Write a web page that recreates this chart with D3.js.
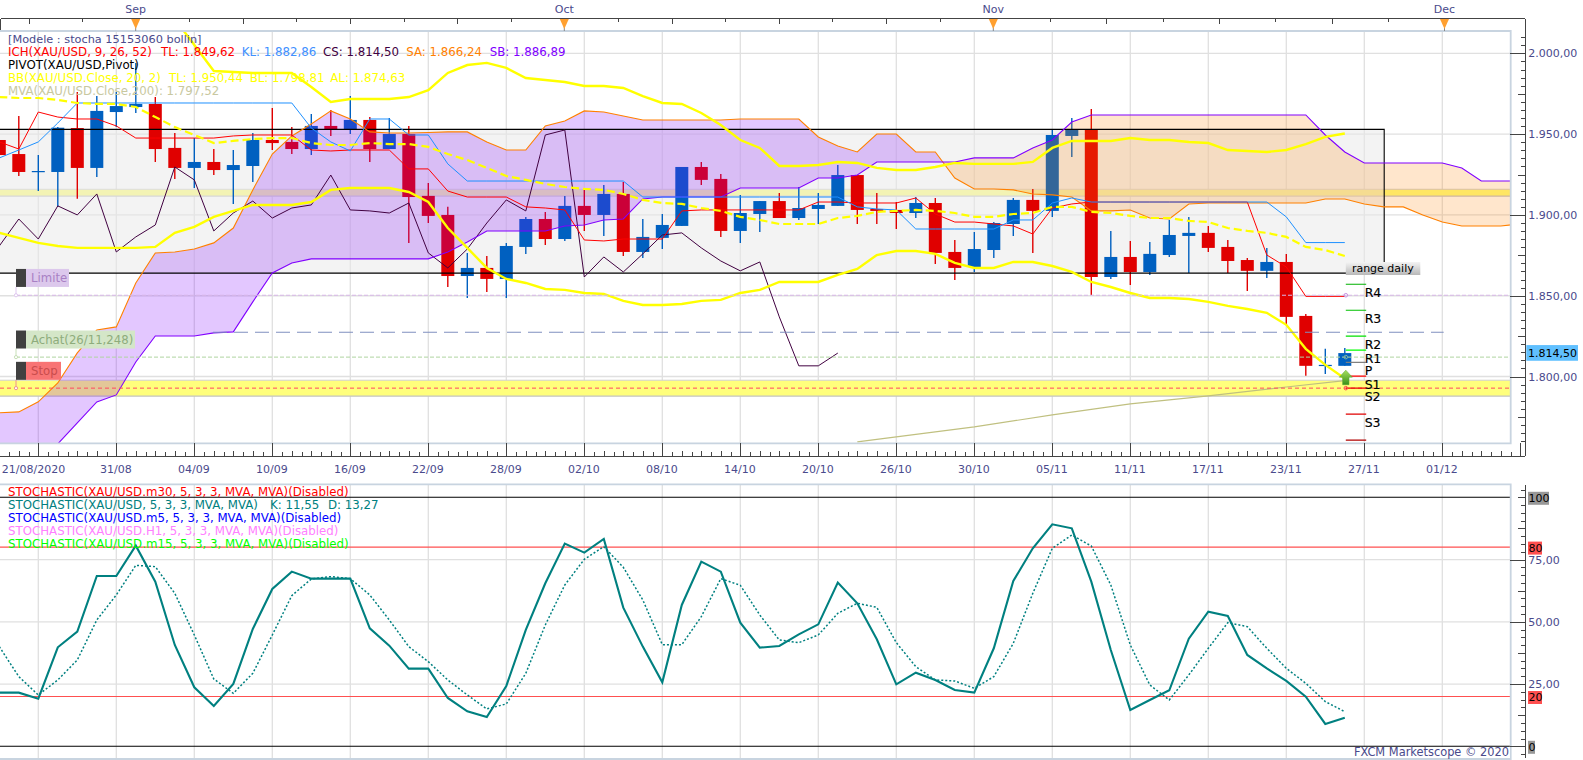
<!DOCTYPE html>
<html>
<head>
<meta charset="utf-8">
<script src="https://cdn.jsdelivr.net/npm/d3@7"></script>
<style>
  html, body { margin: 0; padding: 0; background: #fff; overflow: hidden; }
  text { font-family: "DejaVu Sans", sans-serif; font-size: 11px; }
  .axis text { fill: #4a4a8c; }
  .axis line, .axis path { stroke: #444; shape-rendering: crispEdges; }
</style>
</head>
<body>
<svg id="chart" width="1583" height="760"></svg>
<script>
// daily candles, one entry per bar
var cOpen = [1946.4,1937.7,1926.6,1926.6,1953.8,1929.1,1963.7,1966.8,1968.7,1941.5,1929.1,1932.8,1927.8,1930.3,1946.4,1945.2,1940.8,1955.1,1952.6,1958.8,1940.8,1950.1,1911.8,1900.0,1862.2,1867.2,1860.4,1880.2,1897.5,1885.1,1905.6,1900.0,1913.0,1877.1,1885.8,1893.2,1929.7,1922.3,1890.1,1900.6,1908.6,1898.1,1903.7,1905.6,1924.7,1903.7,1903.1,1901.2,1907.4,1877.1,1867.8,1878.3,1894.4,1909.3,1902.5,1948.9,1952.6,1861.6,1874.0,1864.7,1875.2,1887.0,1888.9,1880.2,1872.1,1865.4,1870.9,1837.5,1806.6,1806.6];
var cClose = [1937.1,1926.6,1927.2,1954.0,1929.1,1964.4,1967.4,1968.7,1940.8,1929.1,1932.8,1927.8,1930.9,1946.4,1944.5,1940.8,1955.1,1952.6,1958.8,1940.8,1950.1,1911.1,1899.4,1862.2,1867.2,1860.4,1880.8,1897.5,1885.1,1905.6,1900.0,1913.0,1877.1,1886.4,1893.8,1929.7,1921.7,1890.1,1901.2,1908.6,1898.1,1904.3,1906.2,1924.7,1903.1,1902.5,1901.2,1907.4,1876.5,1867.2,1878.9,1895.0,1909.3,1902.5,1949.5,1952.6,1861.6,1874.0,1864.7,1875.9,1887.6,1888.9,1879.6,1871.5,1865.4,1870.9,1836.9,1806.6,1807.2,1814.5];
var cHigh = [1952.6,1961.3,1937.1,1954.4,1976.1,1973.6,1976.1,1994.0,1973.0,1950.7,1947.6,1940.8,1940.2,1950.7,1966.2,1954.4,1962.5,1965.0,1973.6,1960.6,1960.0,1955.1,1919.8,1905.0,1876.5,1874.6,1882.7,1898.8,1901.9,1911.8,1915.5,1918.6,1920.4,1897.5,1900.6,1929.7,1932.8,1925.4,1912.4,1908.6,1913.6,1917.3,1913.6,1930.9,1924.7,1913.6,1908.0,1911.1,1910.5,1884.5,1889.5,1895.6,1910.5,1916.1,1952.6,1960.0,1965.6,1890.1,1883.9,1883.3,1896.9,1898.8,1893.2,1884.5,1873.4,1879.6,1875.9,1838.7,1817.1,1817.7];
var cLow = [1934.0,1924.1,1914.8,1905.0,1910.0,1923.5,1954.4,1963.1,1932.8,1922.3,1916.7,1924.7,1906.8,1920.4,1940.2,1937.7,1937.1,1948.9,1950.1,1932.8,1940.8,1882.7,1895.0,1855.4,1848.6,1852.3,1848.6,1875.9,1881.4,1883.9,1890.1,1887.0,1874.6,1873.4,1878.9,1893.2,1918.6,1886.4,1882.7,1889.5,1898.1,1896.9,1894.4,1905.6,1894.4,1894.4,1891.3,1898.1,1869.7,1859.8,1864.7,1873.4,1887.0,1876.5,1898.8,1935.9,1850.5,1860.4,1856.7,1862.9,1874.0,1864.1,1877.1,1864.1,1852.9,1861.0,1832.5,1800.4,1801.6,1806.6];

// ichimoku
var tenkan = [1945.2,1940.8,1963.7,1960.6,1959.4,1959.4,1955.1,1947.6,1947.6,1947.6,1947.6,1947.6,1948.9,1949.5,1949.5,1949.5,1940.2,1939.6,1940.2,1940.2,1940.2,1928.5,1928.5,1914.8,1911.1,1911.1,1911.1,1905.0,1904.3,1903.1,1884.5,1883.9,1885.1,1885.1,1885.1,1902.5,1903.1,1903.1,1903.1,1903.1,1903.1,1903.1,1908.0,1908.0,1907.4,1907.4,1907.4,1910.5,1900.6,1895.6,1895.6,1894.4,1893.2,1888.2,1904.3,1906.8,1908.0,1908.0,1908.0,1908.0,1908.0,1908.0,1908.0,1908.0,1908.0,1875.2,1867.8,1849.6,1849.6,1849.6];
var kijun = [1935.3,1940.2,1945.2,1956.9,1969.3,1969.3,1969.3,1969.3,1969.3,1969.3,1969.3,1969.3,1969.3,1969.3,1969.3,1969.3,1953.8,1945.2,1939.6,1959.4,1959.4,1949.5,1949.5,1931.6,1921.0,1921.0,1921.0,1921.0,1921.0,1921.0,1921.0,1921.0,1921.0,1911.1,1911.1,1911.1,1911.1,1911.1,1911.1,1911.1,1911.1,1911.1,1911.1,1911.1,1905.0,1903.7,1903.1,1891.3,1891.3,1891.3,1891.3,1891.3,1896.9,1896.9,1907.4,1910.5,1908.0,1908.0,1908.0,1908.0,1908.0,1908.0,1908.0,1908.0,1908.0,1908.0,1898.8,1882.9,1882.9,1882.9];
var chikou = [1880.8,1897.5,1885.1,1905.6,1900.0,1913.0,1877.1,1886.4,1893.8,1929.7,1921.7,1890.1,1901.2,1908.6,1898.1,1904.3,1906.2,1924.7,1903.1,1902.5,1901.2,1907.4,1876.5,1867.2,1878.9,1895.0,1909.3,1902.5,1949.5,1952.6,1861.6,1874.0,1864.7,1875.9,1887.6,1888.9,1879.6,1871.5,1865.4,1870.9,1836.9,1806.6,1806.6,1814.5];
var senkouA = [1777.5,1778.1,1784.3,1796.0,1814.6,1828.8,1830.7,1857.9,1876.5,1877.1,1878.9,1882.7,1891.9,1915.5,1937.7,1948.9,1956.3,1964.4,1959.4,1951.4,1950.7,1950.7,1951.0,1951.4,1951.4,1945.2,1940.2,1940.2,1955.1,1958.2,1964.4,1963.7,1961.3,1958.8,1958.8,1958.8,1958.8,1958.8,1959.4,1959.4,1959.4,1959.4,1948.3,1942.7,1939.0,1950.1,1950.1,1939.0,1939.0,1922.9,1916.1,1916.1,1915.5,1913.0,1912.4,1911.1,1902.5,1902.5,1903.1,1898.1,1897.5,1906.8,1907.4,1907.4,1907.4,1907.4,1907.4,1907.4,1909.9,1909.9,1906.8,1905.0,1905.0,1900.0,1895.6,1893.2,1893.2,1893.2,1894.4];
var senkouB = [1723.6,1729.8,1742.2,1758.3,1771.3,1784.3,1788.6,1809.0,1825.1,1825.1,1825.1,1827.0,1827.6,1846.2,1864.1,1870.3,1872.8,1872.8,1872.8,1872.8,1872.8,1872.8,1872.8,1877.1,1883.3,1890.1,1890.1,1890.1,1890.1,1893.2,1893.8,1896.9,1897.5,1909.9,1911.1,1911.1,1911.1,1911.1,1916.7,1916.7,1916.7,1916.7,1922.9,1922.9,1924.7,1932.8,1932.8,1932.8,1932.8,1932.8,1935.3,1935.3,1935.3,1941.5,1946.4,1957.5,1961.9,1961.9,1961.9,1961.9,1961.9,1961.9,1961.9,1961.9,1961.9,1961.9,1961.9,1961.9,1949.5,1939.0,1932.2,1932.2,1932.2,1932.2,1932.2,1929.1,1921.0,1921.0,1921.0];

// bollinger (the upper band starts above the pane)
var bbUpper = [null,null,null,null,null,null,null,null,null,2021.3,2005.2,1989.1,1988.5,1987.9,1987.9,1987.9,1979.2,1969.9,1971.8,1971.8,1971.8,1973.0,1977.3,1987.9,1992.8,1994.1,1991.0,1984.8,1983.5,1982.3,1979.8,1979.8,1978.6,1973.6,1969.3,1968.7,1963.1,1955.7,1946.4,1941.5,1930.3,1930.3,1930.9,1932.8,1932.2,1929.1,1927.8,1927.8,1929.7,1932.2,1931.6,1931.6,1931.6,1932.8,1941.5,1945.8,1945.8,1945.8,1947.6,1946.4,1946.4,1945.2,1944.5,1940.2,1939.6,1939.0,1940.2,1943.9,1948.3,1950.4];
var bbLower = [1888.9,1885.8,1882.7,1880.8,1879.6,1879.6,1879.6,1879.6,1880.2,1888.9,1892.6,1898.8,1902.5,1906.2,1906.2,1906.2,1908.0,1915.5,1916.7,1916.7,1916.7,1914.2,1908.0,1891.9,1879.6,1867.2,1860.4,1857.9,1854.2,1853.6,1851.7,1851.1,1846.8,1844.3,1844.3,1844.9,1846.8,1847.4,1851.7,1853.6,1858.5,1858.5,1858.5,1862.9,1866.6,1875.2,1877.7,1877.7,1875.9,1870.3,1867.2,1867.2,1870.9,1870.9,1868.4,1864.7,1858.5,1855.4,1851.7,1848.6,1848.6,1848.0,1846.2,1843.7,1841.8,1839.4,1832.0,1817.1,1807.2,1798.8];
var bbMid = [1973.0,1972.4,1972.4,1971.2,1969.3,1968.7,1968.7,1966.8,1960.6,1954.4,1949.5,1944.5,1945.8,1947.0,1947.6,1947.6,1944.5,1943.3,1943.3,1944.5,1943.9,1943.9,1942.1,1937.7,1934.0,1929.1,1924.1,1921.7,1919.2,1917.3,1916.1,1915.5,1913.0,1909.3,1907.4,1906.8,1904.3,1902.5,1898.8,1896.9,1894.4,1894.4,1894.4,1898.1,1899.4,1901.9,1902.5,1903.1,1902.5,1901.2,1898.8,1898.8,1900.6,1901.2,1905.0,1905.0,1901.9,1901.2,1899.4,1898.1,1898.1,1896.3,1895.6,1891.9,1890.1,1888.9,1886.4,1880.2,1878.3,1874.6];

// mva 200, read at a few bars only
var mvaBars = [44,46,50,54,58,62,66,69];
var mvaValues = [1759.5,1762.6,1768.8,1776.2,1783.0,1788.0,1793.5,1797.5];

// stochastic
var stochK = [21.55,21.55,19.14,39.76,46.05,68.41,68.41,80.59,66.13,40.69,23.69,16.2,25.03,47.12,63.18,70.15,67.34,67.34,67.34,47.39,40.43,31.19,31.19,19.41,14.06,11.78,24.23,46.72,65.46,81.39,77.78,83.26,55.69,40.03,25.7,56.76,74.16,70.15,49.66,39.62,40.29,44.98,48.98,65.73,57.43,42.97,24.9,29.58,26.64,22.62,21.55,39.36,66.4,79.52,89.16,87.55,66.13,38.69,14.59,18.61,22.49,43.24,54.08,52.34,36.68,31.32,26.24,19.95,8.97,11.51];
var stochD = [40.03,27.98,20.62,26.64,34.67,50.74,60.78,72.69,72.15,61.44,44.71,27.04,21.28,29.32,44.71,60.51,67.2,68.14,67.34,60.78,50.74,40.03,34,26.64,20.62,15,17,29.32,48.73,64.79,75.1,80.19,71.89,58.77,40.83,40.83,52.07,67.34,64.66,52.74,42.7,41.63,44.71,53.41,57.43,55.82,41.63,32,26.64,26.24,23.29,27.98,41.36,61.44,79.52,84.87,80.45,64.79,40.69,24.63,18.61,28.65,39.36,49.66,48.06,39.36,31.32,25.3,17.94,13.92];

// time axis
var labelBars = [2,6,10,14,18,22,26,30,34,38,42,46,50,54,58,62,66,70,74];
var dateLabels = ["21/08/2020","31/08","04/09","10/09","16/09","22/09","28/09","02/10","08/10","14/10","20/10","26/10","30/10","05/11","11/11","17/11","23/11","27/11","01/12"];
var monthNames = ["Sep","Oct","Nov","Dec"];

// horizontal levels
var zoneTop = 1953, zoneBottom = 1864;
var thinBand = [1915.9, 1911.7];
var stopBand = [1797.7, 1787.8];
var limiteLevel = 1850.3, buyLevel = 1827.4, achatLevel = 1812, stopLevel = 1792.8;
var pivotNames = ["R4","R3","R2","R1","P","S1","S2","S3",""];
var pivotValues = [1857.1,1841,1825,1816.3,1808.8,1800.2,1792.8,1776.7,1760.6];
var pivotColors = ["#00b000","#00c000","#00e000","#00ff00","#808080","#ff0000","#e80000","#e00000","#b00000"];

var lastPrice = 1814.5;

var svg = d3.select("#chart");
var W = 1510.7, axisX = 1525.3;
var top1 = 31, bot1 = 443.3, top2 = 484.3, bot2 = 759;

var x = d3.scaleLinear().domain([0, 78]).range([-0.7, 1520.3]);
var y = d3.scaleLinear().domain([2000, 1800]).range([53.4, 376.5]);
var yS = d3.scaleLinear().domain([100, 0]).range([497.3, 746.3]);
var month = d3.scaleLinear().domain([0, 1, 2, 3]).range([135.7, 564.3, 993.3, 1444.5]);

var euro = d3.formatLocale({ decimal: ",", thousands: ".", grouping: [3], currency: ["", ""] }).format(",.2f");
var euroS = d3.formatLocale({ decimal: ",", thousands: ".", grouping: [3], currency: ["", ""] }).format(".2f");

var defs = svg.append("defs");
defs.append("clipPath").attr("id", "pane1").append("rect")
  .attr("x", 0).attr("y", top1).attr("width", W).attr("height", bot1 - top1);
defs.append("clipPath").attr("id", "pane2").append("rect")
  .attr("x", 0).attr("y", top2).attr("width", W).attr("height", bot2 - top2);

var gradRange = defs.append("linearGradient").attr("id", "gradRange").attr("x2", 0).attr("y2", 1);
gradRange.append("stop").attr("offset", 0).attr("stop-color", "#f4f4f4");
gradRange.append("stop").attr("offset", 1).attr("stop-color", "#b8b8b8");
var gradArrow = defs.append("linearGradient").attr("id", "gradArrow").attr("x2", 0).attr("y2", 1);
gradArrow.append("stop").attr("offset", 0).attr("stop-color", "#a8e060");
gradArrow.append("stop").attr("offset", 1).attr("stop-color", "#389018");

// ---- grids
var gridBars = labelBars;
[[top1, bot1], [top2, bot2]].forEach(function (p) {
  svg.append("g").selectAll("line").data(gridBars).enter().append("line")
    .attr("x1", d => x(d)).attr("x2", d => x(d))
    .attr("y1", p[0]).attr("y2", p[1])
    .attr("stroke", "#e0e0e0").attr("stroke-width", 1.3);
});
svg.append("g").selectAll("line").data([2000, 1950, 1900, 1850, 1800]).enter().append("line")
  .attr("x1", 0).attr("x2", W).attr("y1", d => y(d)).attr("y2", d => y(d))
  .attr("stroke", "#e0e0e0").attr("stroke-width", 1.3);
svg.append("g").selectAll("line").data([75, 50, 25]).enter().append("line")
  .attr("x1", 0).attr("x2", W).attr("y1", d => yS(d)).attr("y2", d => yS(d))
  .attr("stroke", "#e0e0e0").attr("stroke-width", 1.3);

var pane = svg.append("g").attr("clip-path", "url(#pane1)");

// ---- bands and range zone
[thinBand, stopBand].forEach(function (b) {
  pane.append("rect").attr("x", 0).attr("width", W)
    .attr("y", y(b[0])).attr("height", y(b[1]) - y(b[0]))
    .attr("fill", "#ffff7c");
  pane.append("line").attr("x1", 0).attr("x2", W).attr("y1", y(b[1])).attr("y2", y(b[1]))
    .attr("stroke", "#c4c4c4").attr("stroke-width", 1.2);
  pane.append("line").attr("x1", 0).attr("x2", W).attr("y1", y(b[0])).attr("y2", y(b[0]))
    .attr("stroke", "#d0d0d0").attr("stroke-width", 1);
});
pane.append("rect").attr("x", 0).attr("width", 1384.2)
  .attr("y", y(zoneTop)).attr("height", y(zoneBottom) - y(zoneTop))
  .attr("fill", "rgb(232,232,232)").attr("fill-opacity", 0.52);

// ---- candles
var candles = pane.append("g").selectAll("g").data(cOpen).enter().append("g");
var candleColor = (d, i) => cClose[i] >= d ? "#0060c0" : "#e00000";
candles.append("line")
  .attr("x1", (d, i) => x(i)).attr("x2", (d, i) => x(i))
  .attr("y1", (d, i) => y(cHigh[i])).attr("y2", (d, i) => y(cLow[i]))
  .attr("stroke", candleColor).attr("stroke-width", 1.4);
candles.append("rect")
  .attr("x", (d, i) => x(i) - 6.5).attr("width", 13)
  .attr("y", (d, i) => y(Math.max(d, cClose[i])))
  .attr("height", (d, i) => Math.max(1.2, Math.abs(y(d) - y(cClose[i]))))
  .attr("fill", candleColor);

// ---- kumo, coloured by which span is on top
var cloudArea = d3.area().x((d, i) => x(i)).y0((d, i) => y(senkouB[i])).y1(d => y(d));
var aboveB = d3.area().x((d, i) => x(i)).y0(top1).y1(d => y(d));
var belowB = d3.area().x((d, i) => x(i)).y0(bot1).y1(d => y(d));
defs.append("clipPath").attr("id", "aboveB").append("path").attr("d", aboveB(senkouB.slice(0, senkouA.length)));
defs.append("clipPath").attr("id", "belowB").append("path").attr("d", belowB(senkouB.slice(0, senkouA.length)));
pane.append("g").attr("clip-path", "url(#aboveB)").append("path")
  .attr("d", cloudArea(senkouA)).attr("fill", "#8000ff").attr("fill-opacity", 0.22);
pane.append("g").attr("clip-path", "url(#belowB)").append("path")
  .attr("d", cloudArea(senkouA)).attr("fill", "#ff8000").attr("fill-opacity", 0.2);

// ---- zone outline
pane.append("path")
  .attr("d", d3.line()([[0, y(zoneTop)], [1384.2, y(zoneTop)], [1384.2, y(zoneBottom)], [0, y(zoneBottom)]]))
  .attr("fill", "none").attr("stroke", "#000").attr("stroke-width", 1.1);

// ---- indicator lines
var priceLine = d3.line().defined(d => d != null).x((d, i) => x(i)).y(d => y(d));
function addLine(values, color, w, dash) {
  pane.append("path").attr("d", priceLine(values))
    .attr("fill", "none").attr("stroke", color).attr("stroke-width", w)
    .attr("stroke-dasharray", dash || null);
}
addLine(chikou, "#400040", 1);
addLine(senkouA, "#ff8000", 1.1);
addLine(senkouB, "#8000ff", 1.1);
addLine(tenkan, "#ff0000", 1);
addLine(kijun, "#1e90ff", 1);
pane.append("path")
  .attr("d", d3.line().x(d => x(d)).y((d, i) => y(mvaValues[i]))(mvaBars))
  .attr("fill", "none").attr("stroke", "#c0c080").attr("stroke-width", 1.2);
addLine(bbUpper, "#ffff00", 2.4);
addLine(bbLower, "#ffff00", 2.4);
addLine(bbMid, "#ffff00", 2.2, "8 4");

// ---- order levels
pane.append("line").attr("x1", 16).attr("x2", W).attr("y1", y(limiteLevel)).attr("y2", y(limiteLevel))
  .attr("stroke", "#d8b8e8").attr("stroke-dasharray", "4 2");
pane.append("line").attr("x1", 213).attr("x2", 1443.7).attr("y1", y(buyLevel)).attr("y2", y(buyLevel))
  .attr("stroke", "#8090c0").attr("stroke-width", 1.1).attr("stroke-dasharray", "14 7");
pane.append("line").attr("x1", 16).attr("x2", W).attr("y1", y(achatLevel)).attr("y2", y(achatLevel))
  .attr("stroke", "#b0d4a0").attr("stroke-dasharray", "4 2");
pane.append("line").attr("x1", 0).attr("x2", W).attr("y1", y(stopLevel)).attr("y2", y(stopLevel))
  .attr("stroke", "#ff4860").attr("stroke-dasharray", "4 3");

// ---- pivots on the last bar
var pivotX = x(69) + 1, pivotEnd = pivotX + 20.4;
var pivots = pane.append("g").selectAll("g").data(pivotValues).enter().append("g");
pivots.append("line").attr("x1", pivotX).attr("x2", pivotEnd)
  .attr("y1", d => y(d)).attr("y2", d => y(d))
  .attr("stroke", (d, i) => pivotColors[i]).attr("stroke-width", 1.2);
pivots.append("text").attr("x", pivotEnd - 1.5).attr("y", d => y(d) + 8).attr("dy", "0.37em")
  .text((d, i) => pivotNames[i])
  .attr("fill", "#000").attr("stroke", "#000").attr("stroke-width", 0.15)
  .style("font-size", "12.5px");

[[limiteLevel, "#c890e0"], [achatLevel, "#80b8a0"], [stopLevel, "#ff5050"]].forEach(function (c) {
  pane.append("circle").attr("cx", pivotX).attr("cy", y(c[0])).attr("r", 1.8)
    .attr("fill", "none").attr("stroke", c[1]);
});

// green entry arrow
var arrowY = y(pivotValues[5]);
pane.append("path")
  .attr("d", d3.line()([[pivotX, arrowY - 6], [pivotX + 6.5, arrowY + 1], [pivotX + 3.2, arrowY + 1], [pivotX + 3.2, arrowY + 8.5],
    [pivotX - 3.2, arrowY + 8.5], [pivotX - 3.2, arrowY + 1], [pivotX - 6.5, arrowY + 1]]) + "Z")
  .attr("fill", "url(#gradArrow)").attr("stroke", "#58a030").attr("stroke-width", 0.5);

pane.append("rect").attr("x", pivotX).attr("y", 262).attr("width", 74.5).attr("height", 13)
  .attr("fill", "url(#gradRange)");
pane.append("text").attr("x", pivotX + 37).attr("y", 268.5).attr("dy", "0.36em")
  .attr("text-anchor", "middle").attr("fill", "#000").text("range daily");

// ---- trade tags
var tags = [
  { level: limiteLevel, label: "Limite", w: 43, fill: "#dcc8ec", text: "#a880c4", stem: "#e0c8f0" },
  { level: achatLevel, label: "Achat(26/11,248)", w: 109, fill: "#d4e6c8", text: "#8eac7c", stem: "#c8e0b8" },
  { level: stopLevel, label: "Stop", w: 35, fill: "#f87474", text: "#c84c4c", stem: "#f09090" }
];
tags.forEach(function (t) {
  var yy = y(t.level), boxTop = yy + (t.label == "Limite" ? -26.3 : t.label == "Stop" ? -26.3 : -26.6);
  var g = pane.append("g");
  g.append("line").attr("x1", 16).attr("x2", 16).attr("y1", boxTop + 18).attr("y2", yy).attr("stroke", t.stem);
  g.append("circle").attr("cx", 16).attr("cy", yy).attr("r", 1.6).attr("fill", "#fff").attr("stroke", t.stem);
  g.append("rect").attr("x", 26).attr("y", boxTop).attr("width", t.w).attr("height", 18).attr("fill", t.fill);
  g.append("rect").attr("x", 16).attr("y", boxTop).attr("width", 10).attr("height", 18).attr("fill", "#404040");
  g.append("text").attr("x", 31).attr("y", boxTop + 9).attr("dy", "0.36em").attr("fill", t.text)
    .style("font-size", "11.7px").text(t.label);
});

// ---- stochastic pane
var pane2 = svg.append("g").attr("clip-path", "url(#pane2)");
pane2.append("line").attr("x1", 0).attr("x2", W).attr("y1", yS(100)).attr("y2", yS(100))
  .attr("stroke", "#000").attr("stroke-width", 1.1);
pane2.append("line").attr("x1", 0).attr("x2", W).attr("y1", yS(0)).attr("y2", yS(0))
  .attr("stroke", "#000").attr("stroke-width", 1.1);
[80, 20].forEach(function (v) {
  pane2.append("line").attr("x1", 0).attr("x2", W).attr("y1", yS(v)).attr("y2", yS(v))
    .attr("stroke", "#ff5050").attr("stroke-width", 1.1);
});
var stochLine = d3.line().x((d, i) => x(i)).y(d => yS(d));
pane2.append("path").attr("d", stochLine(stochD))
  .attr("fill", "none").attr("stroke", "#008080").attr("stroke-width", 1.5).attr("stroke-dasharray", "2 2");
pane2.append("path").attr("d", stochLine(stochK))
  .attr("fill", "none").attr("stroke", "#008080").attr("stroke-width", 2.1);

// ---- pane borders
[[top1, bot1], [top2, bot2]].forEach(function (p) {
  svg.append("path").attr("d", d3.line()([[0, p[0]], [W, p[0]], [W, p[1]], [0, p[1]]]))
    .attr("fill", "none").attr("stroke", "#c8d4e0").attr("stroke-width", 1.8);
});

// ---- right axes
function yAxis(scale, ticks, size, fmt, padding) {
  return d3.axisRight(scale).tickValues(ticks).tickSize(-size).tickSizeOuter(0)
    .tickFormat(fmt || "").tickPadding(padding || 3);
}
var priceMinor = d3.range(1760, 2011, 5);
var priceMid = d3.range(1775, 2000, 50);
var axisP = svg.append("g").attr("class", "axis").attr("transform", `translate(${axisX},0)`);
axisP.append("g").call(yAxis(y, priceMinor, 4));
axisP.append("g").call(yAxis(y, priceMid, 7));
axisP.append("g").call(yAxis(y, [1800, 1850, 1900, 1950, 2000], 15, euro, 3));
axisP.selectAll("path").remove();
axisP.append("line").attr("y1", 18.7).attr("y2", 456.3);

var stochMinor = d3.range(-3.125, 104, 3.125);
var stochMid = d3.range(12.5, 101, 25);
var axisS = svg.append("g").attr("class", "axis").attr("transform", `translate(${axisX},0)`);
axisS.append("g").call(yAxis(yS, stochMinor, 4));
axisS.append("g").call(yAxis(yS, stochMid.concat([100]), 7));
axisS.append("g").call(yAxis(yS, [0], 15));
axisS.append("g").call(yAxis(yS, [25, 50, 75], 15, euroS, 3));
axisS.selectAll("path").remove();
axisS.append("line").attr("y1", 485).attr("y2", 758);

// boxed levels on the stochastic axis
[[100, "100", "#989898", 21, 0], [80, "80", "#ff5050", 14, 0], [20, "20", "#ff5050", 14, 0], [0, "0", "#989898", 7, 0]].forEach(function (b) {
  var g = svg.append("g");
  g.append("rect").attr("x", 1528).attr("y", yS(b[0]) - 5.5).attr("width", b[3]).attr("height", 13).attr("fill", b[2]);
  g.append("text").attr("x", 1528.5).attr("y", yS(b[0]) + 1).attr("dy", "0.36em").attr("fill", "#000").text(b[1]);
});

// current price box
svg.append("rect").attr("x", 1526.3).attr("y", y(lastPrice) - 8).attr("width", 51.7).attr("height", 15.7).attr("fill", "#60c0ff");
svg.append("text").attr("x", 1528).attr("y", y(lastPrice)).attr("dy", "0.36em").attr("fill", "#000").text(euro(lastPrice));

// ---- bottom axis
var axisB = svg.append("g").attr("class", "axis").attr("transform", "translate(0,456.3)");
axisB.append("g").call(d3.axisBottom(x).tickValues(d3.range(0, 78, 1).map(d => d + 0.5)).tickSize(-4).tickSizeOuter(0).tickFormat(""));
axisB.append("g").call(d3.axisBottom(x).tickValues(d3.range(0, 78, 1)).tickSize(-5.5).tickSizeOuter(0).tickFormat(""));
axisB.append("g").call(d3.axisBottom(x).tickValues(labelBars.concat([78])).tickSize(-13).tickSizeOuter(0).tickPadding(9)
  .tickFormat(d => { var k = labelBars.indexOf(d); return k < 0 ? "" : dateLabels[k]; }));
axisB.selectAll("path").remove();
axisB.append("line").attr("x1", 0).attr("x2", axisX);
axisB.selectAll("text").attr("dx", "-1");
axisB.selectAll("text").filter(d => d == labelBars[0]).attr("text-anchor", "start").attr("dx", "-37");

// ---- top axis
var monthTicks = d3.range(-2, 25).map(d => d / 8);
var axisT = svg.append("g").attr("class", "axis").attr("transform", "translate(0,18.7)");
axisT.append("g").call(d3.axisBottom(month).tickValues(monthTicks.filter((d, i) => i % 2 == 1).concat([3.33])).tickSize(3).tickSizeOuter(0).tickFormat(""));
axisT.append("g").call(d3.axisBottom(month).tickValues(monthTicks.filter((d, i) => i % 2 == 0)).tickSize(5.5).tickSizeOuter(0).tickFormat(""));
axisT.selectAll("path").remove();
axisT.append("line").attr("x1", 0.8).attr("x2", axisX);
axisT.append("line").attr("x1", 0.8).attr("x2", 0.8).attr("y2", 11);

var months = svg.append("g").selectAll("g").data(monthNames).enter().append("g");
months.append("text").attr("x", (d, i) => month(i)).attr("y", 9).attr("dy", "0.36em")
  .attr("text-anchor", "middle").attr("fill", "#4a4a8c").text(d => d);
months.append("line").attr("x1", (d, i) => month(i)).attr("x2", (d, i) => month(i))
  .attr("y1", 24).attr("y2", 31).attr("stroke", "#888");
months.append("path")
  .attr("d", (d, i) => d3.line()([[month(i) - 4.5, 19], [month(i) + 4.5, 19], [month(i), 29]]) + "Z")
  .attr("fill", "#ffa030");

// ---- legends
var legend = svg.append("g");
function addText(tx, ty, str, color, size) {
  legend.append("text").attr("x", tx).attr("y", ty).attr("dy", "0.36em").attr("fill", color)
    .style("font-size", (size || 11.8) + "px").text(str);
}
addText(8, 39, "[Modele : stocha 15153060 bollin]", "#4a4a8c", 11.3);
addText(8, 52, "ICH(XAU/USD, 9, 26, 52)", "#ff0000");
addText(161, 52, "TL: 1.849,62", "#ff0000");
addText(241.7, 52, "KL: 1.882,86", "#4090ff");
addText(323, 52, "CS: 1.814,50", "#400040");
addText(406.3, 52, "SA: 1.866,24", "#ff8000");
addText(489.7, 52, "SB: 1.886,89", "#8000ff");
addText(8, 65, "PIVOT(XAU/USD,Pivot)", "#000000");
addText(8, 78, "BB(XAU/USD.Close, 20, 2)", "#ffff00");
addText(169, 78, "TL: 1.950,44", "#ffff00");
addText(249.7, 78, "BL: 1.798,81", "#ffff00");
addText(330.3, 78, "AL: 1.874,63", "#ffff00");
addText(8, 91, "MVA(XAU/USD.Close,200): 1.797,52", "#c8c8a0");

addText(8, 492, "STOCHASTIC(XAU/USD.m30, 5, 3, 3, MVA, MVA)(Disabled)", "#ff0000");
addText(8, 505, "STOCHASTIC(XAU/USD, 5, 3, 3, MVA, MVA)", "#008080");
addText(270, 505, "K: 11,55", "#008080");
addText(328, 505, "D: 13,27", "#008080");
addText(8, 518, "STOCHASTIC(XAU/USD.m5, 5, 3, 3, MVA, MVA)(Disabled)", "#0000ff");
addText(8, 531, "STOCHASTIC(XAU/USD.H1, 5, 3, 3, MVA, MVA)(Disabled)", "#ff80ff");
addText(8, 544, "STOCHASTIC(XAU/USD.m15, 5, 3, 3, MVA, MVA)(Disabled)", "#00ff00");

// ---- watermark
svg.append("rect").attr("x", 1356.7).attr("y", 747).attr("width", 153).attr("height", 11).attr("fill", "#fff");
svg.append("text").attr("x", 1509).attr("y", 752).attr("dy", "0.36em").attr("text-anchor", "end")
  .attr("fill", "#4a4a8c").style("font-size", "11.4px").text("FXCM Marketscope © 2020");
</script>
</body>
</html>
